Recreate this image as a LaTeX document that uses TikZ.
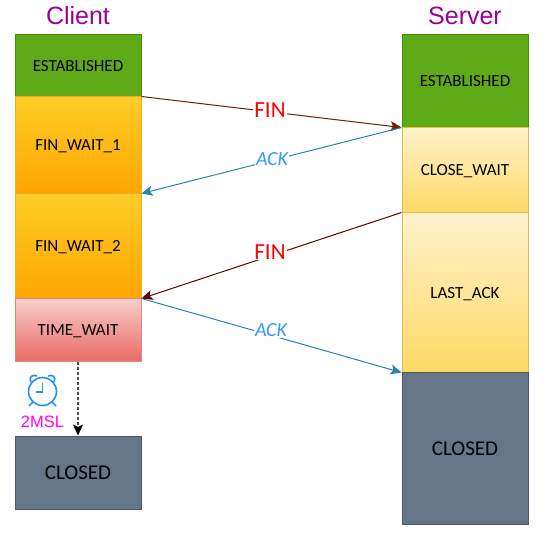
\documentclass[tikz,border=0pt]{standalone}
\usepackage{fontspec}
\setmainfont{Carlito}
\newfontfamily\titlefont{Liberation Sans}
\usetikzlibrary{arrows.meta}
\definecolor{greenfill}{HTML}{60A917}
\definecolor{greenline}{HTML}{4A8A10}
\definecolor{goldtop}{HTML}{FFCD28}
\definecolor{goldbottom}{HTML}{FFA500}
\definecolor{goldline}{HTML}{E6B030}
\definecolor{paletop}{HTML}{FFF2CC}
\definecolor{palebottom}{HTML}{FFD966}
\definecolor{paleline}{HTML}{E0BC55}
\definecolor{redtop}{HTML}{F8CECC}
\definecolor{redbottom}{HTML}{EA6B66}
\definecolor{redline}{HTML}{D98A86}
\definecolor{greyfill}{HTML}{647687}
\definecolor{greyline}{HTML}{4A5868}
\definecolor{finline}{HTML}{6D1F00}
\definecolor{finlinedark}{HTML}{660000}
\definecolor{ackline}{HTML}{006EAF}
\definecolor{acktext}{HTML}{3399FF}
\definecolor{clockblue}{HTML}{1E90FF}
\definecolor{titlepurple}{HTML}{990099}
\definecolor{msltext}{HTML}{FF00FF}
\tikzset{
  state/.style={draw, line width=1pt, inner sep=0pt, minimum width=126pt, text height=14pt, text depth=2pt, font=\fontsize{17}{20}\selectfont},
  established/.style={state, fill=greenfill, draw=greenline},
  clientwait/.style={state, top color=goldtop, bottom color=goldbottom, draw=goldline},
  serverwait/.style={state, top color=paletop, bottom color=palebottom, draw=paleline},
  timewait/.style={state, top color=redtop, bottom color=redbottom, draw=redline},
  closed/.style={state, fill=greyfill, draw=greyline, text height=17pt, text depth=2.3pt, font=\fontsize{21}{24}\selectfont},
  title/.style={font=\titlefont\fontsize{25}{30}\selectfont, text=titlepurple},
  finmsg/.style={draw=finline, line width=1pt, -{Stealth[length=11pt,width=10pt,inset=2.5pt]}},
  ackmsg/.style={draw=ackline!85!white, line width=1pt, -{Stealth[length=11pt,width=10pt,inset=2.5pt]}},
  finlabel/.style={fill=white, inner sep=1pt, text=red, font=\fontsize{23}{26}\selectfont},
  acklabel/.style={fill=white, inner sep=1pt, text=acktext, font=\itshape\fontsize{20}{24}\selectfont},
  clockline/.style={clockblue, line width=1.6pt},
}
\begin{document}
\begin{tikzpicture}[x=1pt, y=-1pt]
\useasboundingbox (0,0) rectangle (543,533);
% client side
\node[title] (client) at (78,16) {Client};
\node[established, minimum height=62pt] (cest) at (78,65) {ESTABLISHED};
\node[clientwait, minimum height=97pt] (cfin1) at (78,144.5) {FIN\_WAIT\_1};
\node[clientwait, minimum height=105pt] (cfin2) at (78,245.5) {FIN\_WAIT\_2};
\node[timewait, minimum height=63pt] (ctime) at (78,329.5) {TIME\_WAIT};
\node[closed, minimum height=73pt] (cclosed) at (78,472.5) {CLOSED};
% server side
\node[title] (server) at (465,16) {Server};
\node[established, minimum height=93pt] (sest) at (465,80.5) {ESTABLISHED};
\node[serverwait, minimum height=85pt] (sclose) at (465,169.5) {CLOSE\_WAIT};
\node[serverwait, minimum height=160pt] (slast) at (465,292) {LAST\_ACK};
\node[closed, minimum height=152pt] (sclosed) at (465,448) {CLOSED};
% messages
\draw[finmsg] (cest.south east) -- (sest.south west);
\draw[ackmsg] (sest.south west) -- (cfin1.south east);
\draw[finmsg, draw=finlinedark] (sclose.south west) -- (cfin2.south east);
\draw[ackmsg] (cfin2.south east) -- (slast.south west);
\node[finlabel] (fina) at (270,110) {FIN};
\node[acklabel] (acka) at (272,159) {ACK};
\node[finlabel] (finb) at (270,252) {FIN};
\node[acklabel] (ackb) at (271,330) {ACK};
% 2MSL wait
\draw[line width=1.3pt, dash pattern=on 3pt off 2pt, black!70, -{Stealth[length=11pt,width=10pt,inset=2.5pt,black]}] (ctime.south) -- (cclosed.north);
\node[text=msltext, font=\titlefont\fontsize{16.5}{18}\selectfont] (msl) at (42.5,422) {2MSL};
% clock
\draw[clockline] (42.5,391.5) circle [radius=14];
\draw[clockline] (42.5,383) -- (42.5,392) -- (36,392);
\draw[clockline] (31,382) .. controls (28,377) and (33,374) .. (37,376);
\draw[clockline] (54,382) .. controls (57,377) and (52,374) .. (48,376);
\draw[clockline] (33,402) -- (29,406);
\draw[clockline] (52,402) -- (56,406);
\end{tikzpicture}
\end{document}
